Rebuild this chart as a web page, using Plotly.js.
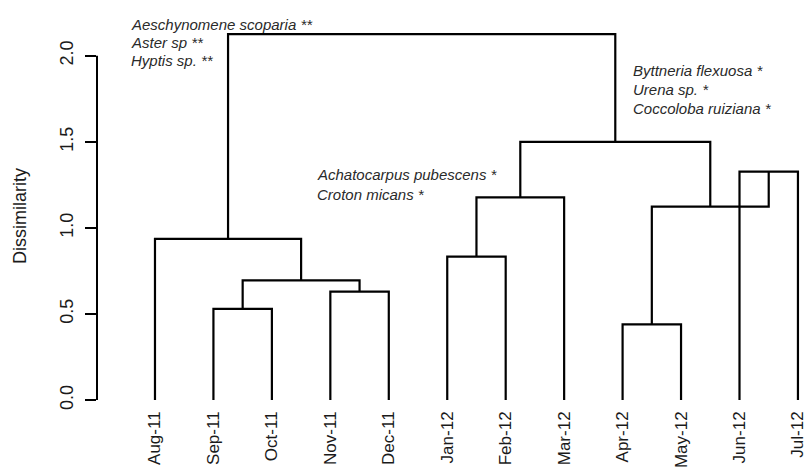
<!DOCTYPE html>
<html>
<head>
<meta charset="utf-8">
<script src="https://cdn.plot.ly/plotly-3.0.1.min.js"></script>
<style>
  html, body { margin: 0; padding: 0; background: #fff; }
  #chart { width: 810px; height: 470px; }
</style>
</head>
<body>
<div id="chart"></div>
<script>
// Leaves of the dendrogram, in plotting order (left to right)
const leaves = ['Aug-11', 'Sep-11', 'Oct-11', 'Nov-11', 'Dec-11', 'Jan-12',
                'Feb-12', 'Mar-12', 'Apr-12', 'May-12', 'Jun-12', 'Jul-12'];

// Merge steps, hclust style: negative = leaf number, positive = earlier merge step
const mergeLeft   = [-9, -2, -4, 2, -6, -1, -11, 1, 5, 9, 6];
const mergeRight  = [-10, -3, -5, 3, -7, 4, -12, 7, -8, 8, 10];
const mergeHeight = [0.44, 0.53, 0.63, 0.695, 0.833, 0.936, 1.327, 1.124, 1.178, 1.5, 2.126];

// Y-axis ticks
const yTickVals = [0, 0.5, 1, 1.5, 2];
const yTickText = ['0.0', '0.5', '1.0', '1.5', '2.0'];

// Species notes placed next to the branches
const noteText = ['Aeschynomene scoparia **', 'Aster sp **', 'Hyptis sp. **',
                  'Achatocarpus pubescens *', 'Croton micans *',
                  'Byttneria flexuosa *', 'Urena sp. *', 'Coccoloba ruiziana *'];
const noteX = [0.55, 0.55, 0.55, 3.74, 3.74, 9.15, 9.15, 9.15];
const noteY = [2.18, 2.078, 1.975, 1.31, 1.197, 1.915, 1.806, 1.694];

// Build the dendrogram path: each node sits midway between its children
const nodeX = [], nodeH = [];
function childPos(c) {
  if (c < 0) return [-c, 0];
  return [nodeX[c - 1], nodeH[c - 1]];
}
const segX = [], segY = [];
for (let i = 0; i < mergeHeight.length; i++) {
  const [xl, hl] = childPos(mergeLeft[i]);
  const [xr, hr] = childPos(mergeRight[i]);
  const h = mergeHeight[i];
  segX.push(xl, xl, xr, xr, null);
  segY.push(hl, h, h, hr, null);
  nodeX.push((xl + xr) / 2);
  nodeH.push(h);
}

const traces = [{
  type: 'scatter',
  mode: 'lines',
  x: segX,
  y: segY,
  line: { color: '#000', width: 2.2 },
  hoverinfo: 'skip',
  showlegend: false
}];

const annotations = noteText.map((t, i) => ({
  text: '<i>' + t + '</i>',
  x: noteX[i], y: noteY[i], xref: 'x', yref: 'y',
  xanchor: 'left', yanchor: 'middle', showarrow: false,
  font: { family: 'Liberation Sans, Arial, sans-serif', size: 15, color: '#2a2a2a' }
}));

annotations.push({
  text: 'Dissimilarity',
  xref: 'paper', yref: 'y', x: -0.108, y: 1.07,
  xanchor: 'center', yanchor: 'middle', textangle: -90, showarrow: false,
  font: { family: 'Liberation Sans, Arial, sans-serif', size: 18, color: '#1a1a1a' }
});

const layout = {
  width: 810, height: 470,
  margin: { l: 97, r: 2, t: 11, b: 63 },
  paper_bgcolor: '#fff', plot_bgcolor: '#fff',
  font: { family: 'Liberation Sans, Arial, sans-serif', size: 17, color: '#1a1a1a' },
  xaxis: {
    range: [0.008, 12.172],
    tickvals: leaves.map((_, i) => i + 1),
    ticktext: leaves,
    tickangle: -90,
    ticks: '',
    showline: false, showgrid: false, zeroline: false,
    tickfont: { size: 17, color: '#1a1a1a' },
    fixedrange: true
  },
  yaxis: {
    range: [-0.04, 2.26],
    tickvals: yTickVals,
    ticktext: yTickText,
    tickangle: -90,
    ticks: 'outside', ticklen: 11, tickwidth: 2, tickcolor: '#000',
    showline: false, showgrid: false, zeroline: false,
    tickfont: { size: 18, color: '#1a1a1a' },
    ticklabelstandoff: 5,
    fixedrange: true
  },
  shapes: [{
    type: 'line', xref: 'paper', yref: 'y',
    x0: 0, x1: 0, y0: yTickVals[0], y1: yTickVals[yTickVals.length - 1],
    line: { color: '#000', width: 2 }
  }],
  annotations: annotations
};

Plotly.newPlot('chart', traces, layout, { displayModeBar: false, staticPlot: true });
</script>
</body>
</html>
